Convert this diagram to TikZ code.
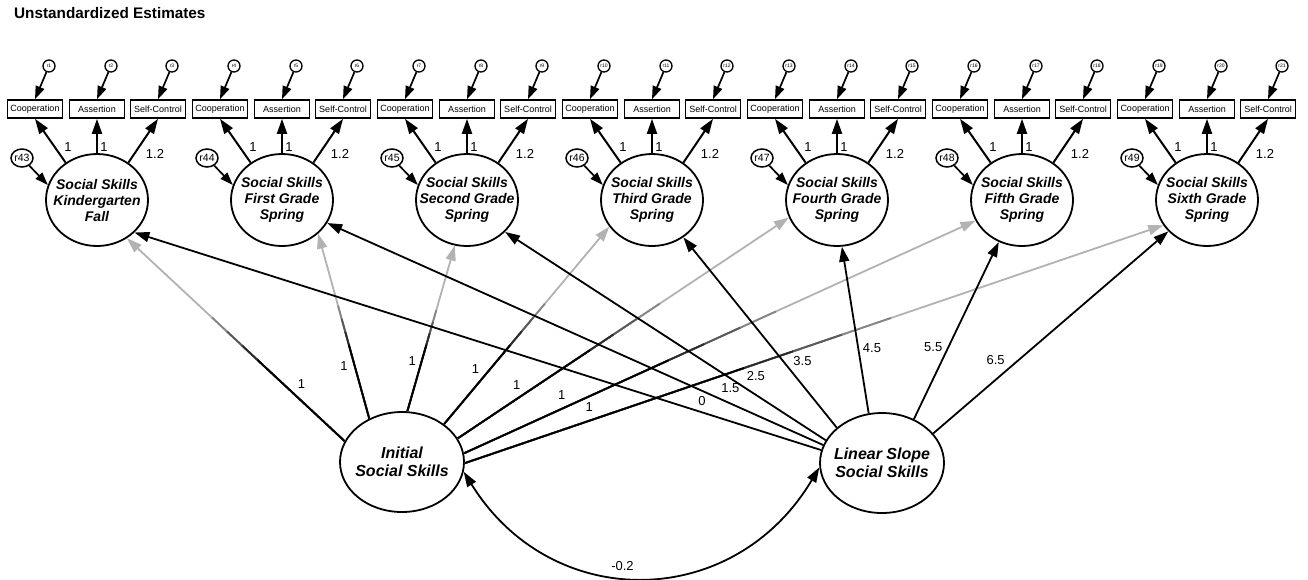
\documentclass[tikz,border=0pt]{standalone}
\usepackage{fontspec}
\setmainfont{Liberation Sans}
\usetikzlibrary{arrows.meta,shapes.geometric}
\definecolor{gline}{RGB}{178,178,178}
\begin{document}
\begin{tikzpicture}[x=1pt,y=-1pt,
  lat/.style={ellipse, draw, line width=1.8pt, minimum width=102pt, minimum height=92pt, inner sep=0pt},
  latb/.style={ellipse, draw, line width=1.8pt, minimum width=124pt, minimum height=100pt, inner sep=0pt},
  lattxt/.style={align=center, font=\fontsize{14}{16}\selectfont\bfseries\itshape, inner sep=0pt},
  latbtxt/.style={align=center, font=\fontsize{16}{18}\selectfont\bfseries\itshape, inner sep=0pt},
  obs/.style={rectangle, draw, line width=1.7pt, minimum width=55pt, minimum height=18pt, inner sep=0pt, font=\fontsize{9}{10}\selectfont},
  err/.style={circle, draw, line width=1.3pt, minimum size=12pt, inner sep=0pt, font=\fontsize{5}{5}\selectfont},
  lerr/.style={ellipse, draw, line width=1.5pt, minimum width=22pt, minimum height=18pt, inner sep=0pt, font=\fontsize{10.5}{11}\selectfont},
  arr/.style={line width=2pt, -{Triangle[length=15pt,width=10pt]}},
  earr/.style={line width=1.7pt, -{Triangle[length=13pt,width=9pt]}},
  sarr/.style={line width=1.8pt, -{Triangle[length=15pt,width=10pt]}},
  garr/.style={line width=1.8pt, draw=gline, -{Triangle[length=15pt,width=10pt]}},
  sline/.style={line width=1.8pt},
  lbl/.style={font=\fontsize{13}{13}\selectfont, inner sep=0pt},
]
\useasboundingbox (0,0) rectangle (1308,579);
\node[anchor=west, font=\fontsize{15.3}{18}\selectfont\bfseries, inner sep=0pt] (title) at (14,13) {Unstandardized Estimates};

\foreach \nm/\ix/\txt/\ra/\rb/\rc/\rr in {
 kg/0/Kindergarten\\Fall/1/2/3/43,
 fg/1/First Grade\\Spring/4/5/6/44,
 sg/2/Second Grade\\Spring/7/8/9/45,
 tg/3/Third Grade\\Spring/10/11/12/46,
 og/4/Fourth Grade\\Spring/13/14/15/47,
 ig/5/Fifth Grade\\Spring/16/17/18/48,
 xg/6/Sixth Grade\\Spring/19/20/21/49}
{
 \pgfmathsetmacro{\cx}{97+185*\ix}
 \node[lat] (\nm) at (\cx,200) {};
 \node[lattxt] (\nm-t) at (\nm.center) {Social Skills\\\txt};
 \node[obs] (\nm-c) at (\cx-62,109) {Cooperation};
 \node[obs] (\nm-a) at (\cx,109) {Assertion};
 \node[obs] (\nm-s) at (\cx+61,109) {Self-Control};
 \node[err] (e\ra) at (\cx-48,66) {r\ra};
 \node[err] (e\rb) at (\cx+14,66) {r\rb};
 \node[err] (e\rc) at (\cx+75,66) {r\rc};
 \node[lerr] (e\rr) at (\cx-75,158) {r\rr};
 \draw[earr] (e\ra) -- (\nm-c.north);
 \draw[earr] (e\rb) -- (\nm-a.north);
 \draw[earr] (e\rc) -- (\nm-s.north);
 \draw[earr] (e\rr) -- (\nm.163);
 \draw[arr] (\nm.130) -- (\nm-c.south);
 \draw[arr] (\nm.north) -- (\nm-a.south);
 \draw[arr] (\nm.50) -- (\nm-s.south);
 \node[lbl] (\nm-l1) at ([shift={(-29,-53)}]\nm.center) {1};
 \node[lbl] (\nm-l2) at ([shift={(7,-53)}]\nm.center) {1};
 \node[lbl] (\nm-l3) at ([shift={(58,-46)}]\nm.center) {1.2};
}

\node[latb] (ini) at (402,462) {};
\node[latbtxt] (ini-t) at (ini.center) {Initial\\Social Skills};
\node[latb] (lin) at (882,463) {};
\node[latbtxt] (lin-t) at (lin.center) {Linear Slope\\Social Skills};

% intercept loadings (black near the source, grey towards the heads)
\foreach \tn/\sa/\tb/\pp/\sx/\sy in {
 kg/160.7/-52.6/0.238/8.6/-9.2,
 fg/127.3/-43/0.301/-10/2.7,
 sg/84/-105/0.287/-8.8/-2.5,
 tg/42.8/-148/0.241/-8.4/-7.1,
 og/23.6/-160.5/0.197/-6.3/-9.5,
 ig/8.4/-156.5/0.201/-5.1/-11.2,
 xg/-1/-150.7/0.184/-4.1/-11.9}
{
 \draw[garr] (ini.\sa) -- (\tn.\tb);
 \path (ini.\sa) -- (\tn.\tb)
   coordinate[pos=0.40] (ga-\tn) coordinate[pos=0.47] (gb-\tn)
   coordinate[pos=0.54] (gc-\tn) coordinate[pos=0.61] (gd-\tn)
   node[lbl, pos=\pp, shift={(\sx,\sy)}] (il-\tn) {1};
 \draw[sline, draw=black!25!gline] (ini.\sa) -- (gd-\tn);
 \draw[sline, draw=black!50!gline] (ini.\sa) -- (gc-\tn);
 \draw[sline, draw=black!75!gline] (ini.\sa) -- (gb-\tn);
 \draw[sline, draw=black] (ini.\sa) -- (ga-\tn);
}

% slope loadings
\foreach \tn/\sa/\tb/\pp/\sx/\sy/\vv in {
 kg/168/-41.6/0.1785/3.3/-10.3/0,
 fg/163.3/-27.6/0.199/5.9/-13.2/1.5,
 sg/158/-40.9/0.245/8.7/-13.5/2.5,
 tg/142.1/-50.5/0.301/11.9/-9.4/3.5,
 og/105.6/-84/0.3815/13.5/-2.1/4.5,
 ig/54.2/-119/0.3736/-12.4/-5.9/5.5,
 xg/30.5/-141/0.3066/-9.7/-11.4/6.5}
{
 \draw[sarr] (lin.\sa) -- (\tn.\tb) node[lbl, pos=\pp, shift={(\sx,\sy)}] (ll-\tn) {\vv};
}

% covariance
\coordinate (cc1) at (552,614);
\coordinate (cc2) at (734,611);
\draw[line width=1.8pt, {Triangle[length=15pt,width=10pt]}-{Triangle[length=15pt,width=10pt]}]
  (ini.-9) .. controls (cc1) and (cc2) .. (lin.184) node[lbl, pos=0.45, above=4pt] (cov) {-0.2};
\end{tikzpicture}
\end{document}
